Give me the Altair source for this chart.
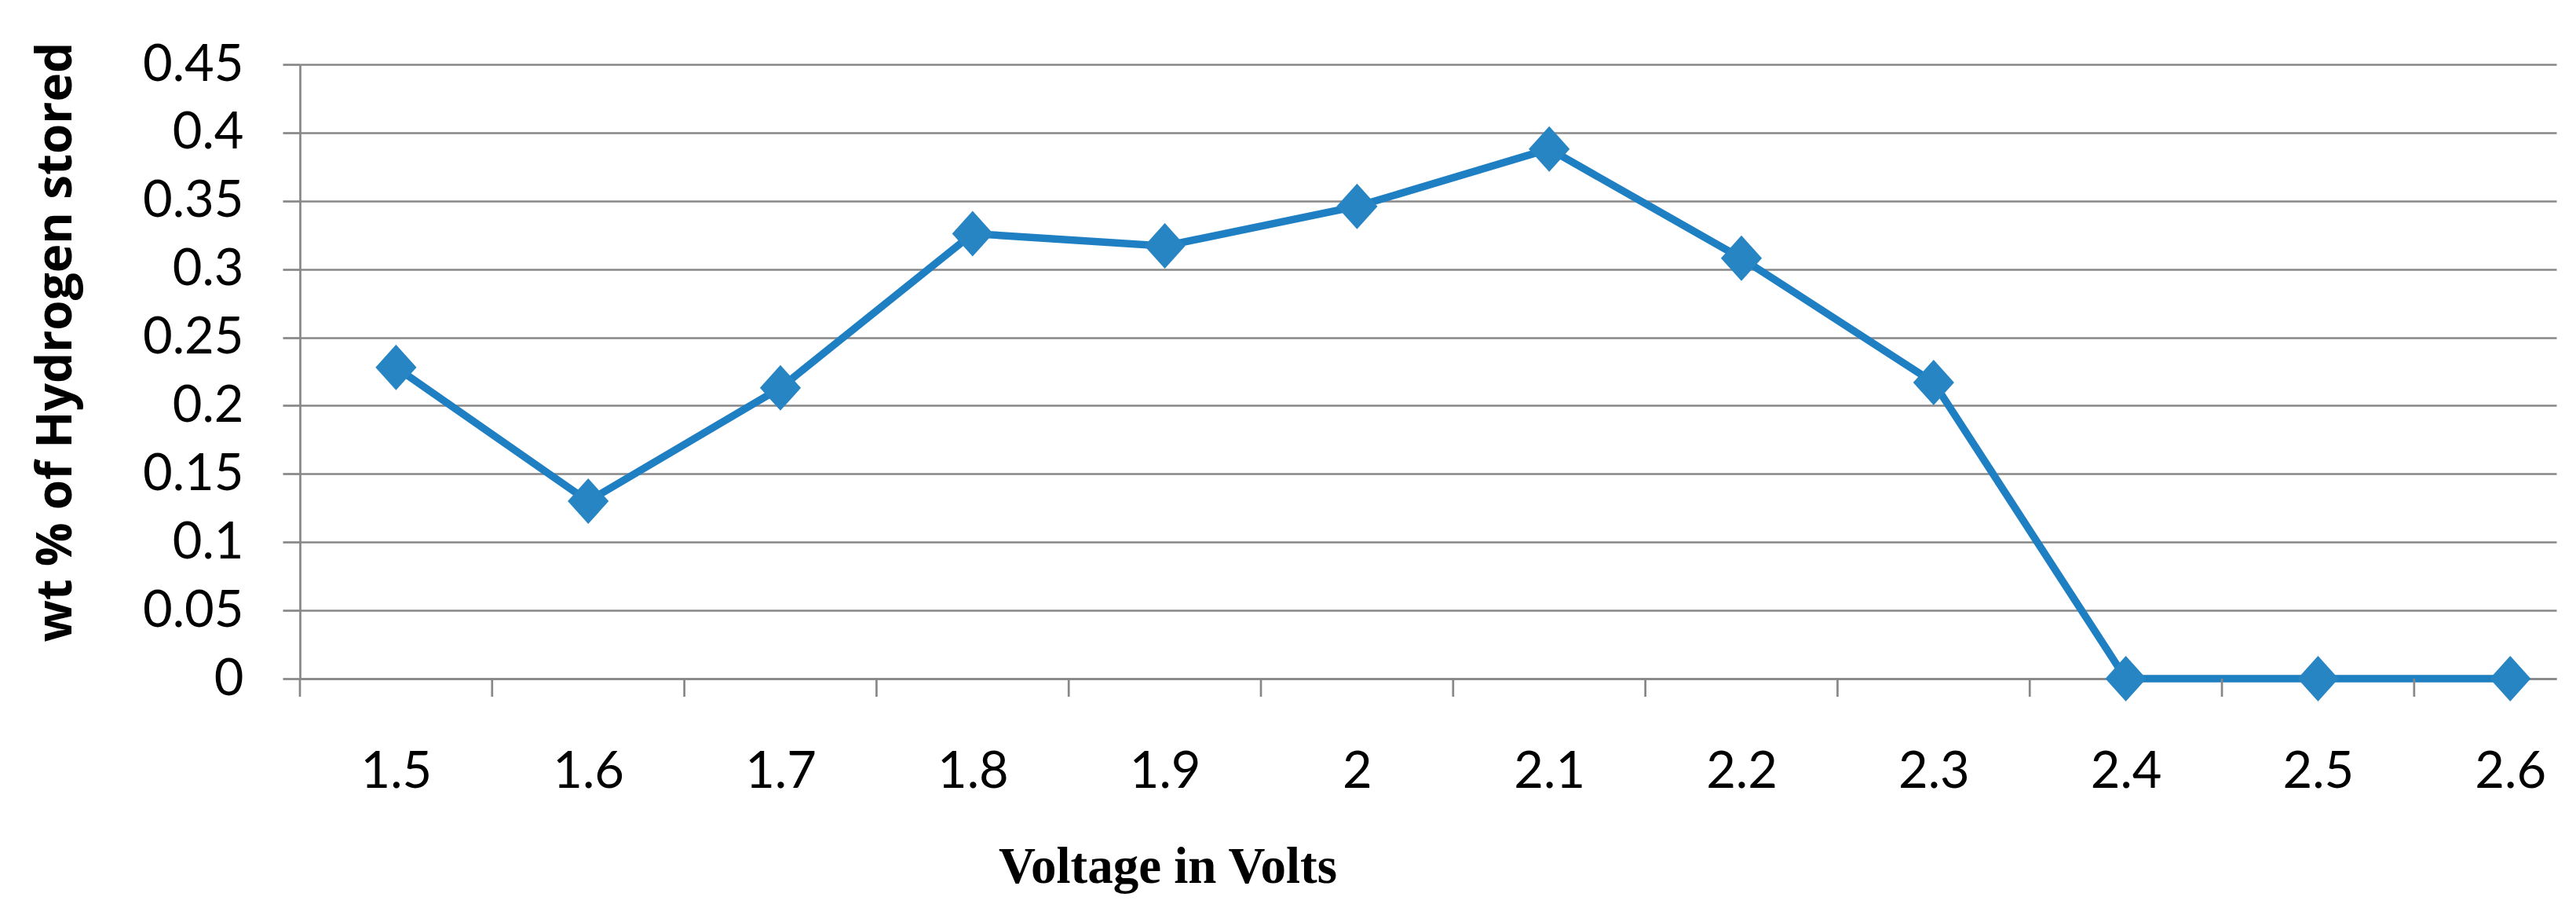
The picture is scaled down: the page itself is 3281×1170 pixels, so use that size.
import altair as alt
import pandas as pd

voltage = [1.5, 1.6, 1.7, 1.8, 1.9, 2.0, 2.1, 2.2, 2.3, 2.4, 2.5, 2.6]
wt_h2 = [0.228, 0.130, 0.213, 0.326, 0.317, 0.346, 0.388, 0.308, 0.217, 0.0, 0.0, 0.0]
y_ticks = [0, 0.05, 0.1, 0.15, 0.2, 0.25, 0.3, 0.35, 0.4, 0.45]

df = pd.DataFrame({"v": voltage, "w": wt_h2})

GRAY = "#878787"
LINE = "#1F7FC3"
MARK = "#2785C4"

W, H = 2874, 782

xscale = alt.Scale(domain=[1.45, 2.624], nice=False, zero=False)
yscale = alt.Scale(domain=[0, 0.45], nice=False)

xaxis = alt.Axis(
    values=voltage, format="~g", ticks=False, tickSize=0, grid=False,
    domain=True, domainColor=GRAY, domainWidth=2.7,
    labelFont="Lato", labelFontSize=65, labelColor="#000000",
    labelBaseline="middle", labelPadding=118, labelFlush=False, labelOverlap=False,
    title="Voltage in Volts", titleFont="Liberation Serif", titleFontWeight="bold",
    titleFontSize=65, titleColor="#000000", titleX=1105, titleY=259,
    titleAlign="center", titleBaseline="alphabetic",
)

yaxis = alt.Axis(
    values=y_ticks, format="~g", grid=True, gridColor=GRAY, gridWidth=2.7,
    ticks=True, tickSize=22, tickColor=GRAY, tickWidth=2.7,
    domain=True, domainColor=GRAY, domainWidth=2.7,
    labelFont="Lato", labelFontSize=65, labelColor="#000000",
    labelPadding=50, labelOverlap=False, labelFlush=False,
    title="wt % of Hydrogen stored", titleFont="Open Sans", titleFontWeight="bold",
    titleFontSize=62, titleColor="#000000", titleX=-292, titleY=353,
    titleAlign="center", titleBaseline="alphabetic", titleAngle=270,
)

base = alt.Chart(df)

line = base.mark_line(color=LINE, strokeWidth=9.5).encode(
    x=alt.X("v:Q", scale=xscale, axis=xaxis),
    y=alt.Y("w:Q", scale=yscale, axis=yaxis),
)

points = base.mark_point(
    shape="M-0.9,0L0,-1L0.9,0L0,1Z", size=3364, filled=True, color=MARK, opacity=1
).encode(
    x=alt.X("v:Q", scale=xscale),
    y=alt.Y("w:Q", scale=yscale),
)

ticks = base.transform_calculate(b="datum.v - 0.05").mark_rule(
    color=GRAY, strokeWidth=2.7
).encode(
    x=alt.X("b:Q", scale=xscale),
    y=alt.value(H),
    y2=alt.value(H + 23),
)

chart = alt.layer(line, ticks, points).properties(
    width=W, height=H,
    autosize=alt.AutoSizeParams(type="none"),
    padding={"left": 374, "top": 74, "right": 17, "bottom": 290},
    background="white",
).configure_view(stroke=None)

chart.save("out.html", embed_options={"renderer": "svg", "actions": False})
